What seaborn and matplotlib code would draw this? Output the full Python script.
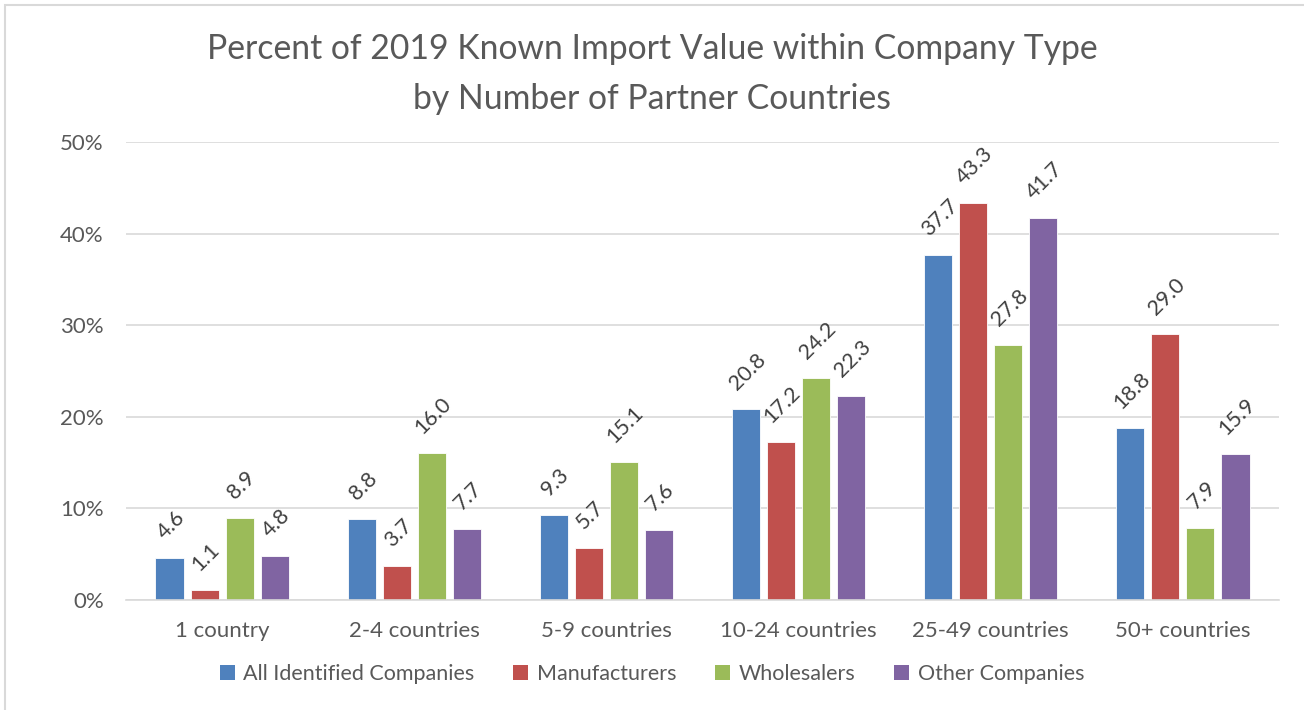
import matplotlib
matplotlib.use('Agg')
import matplotlib.pyplot as plt
import matplotlib.patches as mpatches
import pandas as pd
import seaborn as sns

categories = ['1 country', '2-4 countries', '5-9 countries', '10-24 countries', '25-49 countries', '50+ countries']
company_types = ['All Identified Companies', 'Manufacturers', 'Wholesalers', 'Other Companies']
all_identified = [4.6, 8.8, 9.3, 20.8, 37.7, 18.8]
manufacturers = [1.1, 3.7, 5.7, 17.2, 43.3, 29.0]
wholesalers = [8.9, 16.0, 15.1, 24.2, 27.8, 7.9]
other_companies = [4.8, 7.7, 7.6, 22.3, 41.7, 15.9]
yticks = [0, 10, 20, 30, 40, 50]

colors = ['#4F81BD', '#C0504D', '#9BBB59', '#8064A2']
grey = '#595959'

rows = []
for ctype, vals in zip(company_types, [all_identified, manufacturers, wholesalers, other_companies]):
    for cat, v in zip(categories, vals):
        rows.append({'category': cat, 'type': ctype, 'value': v})
df = pd.DataFrame(rows)

sns.set_style('white')
plt.rcParams['font.family'] = ['Lato', 'DejaVu Sans']

fig = plt.figure(figsize=(13.04, 7.10), dpi=100)
ax = fig.add_axes([126/1304, 1-600/710, (1279-126)/1304, (600-142)/710])

sns.barplot(data=df, x='category', y='value', hue='type', order=categories,
            hue_order=company_types, palette=colors, saturation=1, width=0.73, gap=0.2,
            edgecolor='white', linewidth=0.6, legend=False, ax=ax)

# data labels, rotated like the excel original
for cont in ax.containers:
    for bar in cont:
        h = bar.get_height()
        ax.annotate(f'{h:.1f}', (bar.get_x() + bar.get_width()/2, h),
                    xytext=(1, 11), textcoords='offset points',
                    ha='center', va='bottom', rotation=45,
                    fontsize=15.5, color='#404040')

ax.set_ylim(0, 50)
ax.set_yticks(yticks)
ax.set_yticklabels([f'{t}%' for t in yticks])
ax.set_xlim(-0.5, len(categories) - 0.5)
ax.yaxis.grid(True, color='#D9D9D9', linewidth=1.2)
ax.set_axisbelow(True)
for s in ['top', 'right', 'left']:
    ax.spines[s].set_visible(False)
ax.spines['bottom'].set_color('#D9D9D9')
ax.spines['bottom'].set_linewidth(1.2)
ax.tick_params(axis='y', length=0, pad=16, labelsize=16, labelcolor=grey)
ax.tick_params(axis='x', length=0, pad=15, labelsize=16, labelcolor=grey)
ax.set_xlabel('')
ax.set_ylabel('')

fig.text(0.5, 1-74/710, 'Percent of 2019 Known Import Value within Company Type\nby Number of Partner Countries',
         ha='center', va='center', fontsize=24.3, color=grey, linespacing=1.68)

handles = [mpatches.Patch(facecolor=c, edgecolor='none') for c in colors]
fig.legend(handles, company_types, loc='center', bbox_to_anchor=(0.5, 1-674/710),
           ncol=4, frameon=False, fontsize=15.5, labelcolor=grey,
           handlelength=0.7, handleheight=0.7, handletextpad=0.4, columnspacing=1.8)

# light chart border
fig.patches.append(mpatches.Rectangle((5/1304, -0.01), 1.02, 1-5/710+0.01, transform=fig.transFigure,
                                      fill=False, edgecolor='#D9D9D9', linewidth=1.5, clip_on=False))

fig.savefig('out.png', dpi=100)
